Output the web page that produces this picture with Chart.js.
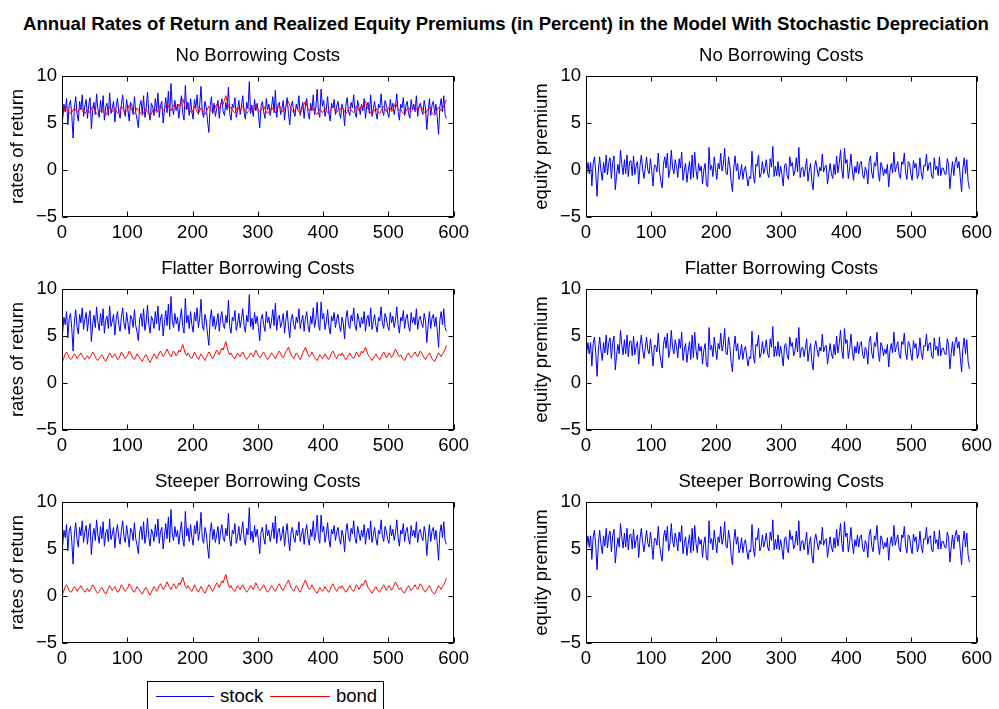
<!DOCTYPE html>
<html>
<head>
<meta charset="utf-8">
<script src="https://cdn.jsdelivr.net/npm/chart.js@4.4.1/dist/chart.umd.min.js"></script>
<style>
  body { margin: 0; background: #fff; width: 999px; height: 709px; position: relative; overflow: hidden;
         font-family: "Liberation Sans", Arial, sans-serif; color: #000; }
  canvas { position: absolute; }
  #mainTitle { position: absolute; left: 506px; top: 13px; transform: translateX(-50%); white-space: nowrap;
               font-weight: bold; font-size: 18.6px; line-height: 22px; }
  #legend { position: absolute; left: 147px; top: 681px; width: 235px; height: 30px; border: 1px solid #000;
            background: #fff; font-size: 18.5px; }
  #legend .ln { position: absolute; top: 14px; height: 1px; }
  #legend .tx { position: absolute; top: 3px; line-height: 22px; }
</style>
</head>
<body>
<div id="mainTitle">Annual Rates of Return and Realized Equity Premiums (in Percent) in the Model With Stochastic Depreciation</div>
<canvas id="c11" width="474" height="212" style="left:0px;top:45px"></canvas>
<canvas id="c12" width="473" height="212" style="left:524px;top:45px"></canvas>
<canvas id="c21" width="474" height="212" style="left:0px;top:258px"></canvas>
<canvas id="c22" width="473" height="212" style="left:524px;top:258px"></canvas>
<canvas id="c31" width="474" height="212" style="left:0px;top:471px"></canvas>
<canvas id="c32" width="473" height="212" style="left:524px;top:471px"></canvas>
<div id="legend">
  <div class="ln" style="left:8px;width:58px;background:#0000ff"></div>
  <div class="tx" style="left:72px">stock</div>
  <div class="ln" style="left:122px;width:60px;background:#ff0000"></div>
  <div class="tx" style="left:188px">bond</div>
</div>
<script>
const stockReturns = [
  5.4, 7.0, 6.2, 7.6, 4.8, 6.9, 7.4, 5.8, 3.4, 6.6,
  7.8, 6.0, 5.2, 7.3, 6.4, 8.0, 5.7, 6.8, 7.5, 5.5,
  6.9, 7.7, 4.4, 6.3, 7.2, 5.9, 8.1, 6.5, 5.6, 7.4,
  6.1, 7.9, 5.3, 6.7, 7.1, 5.8, 8.2, 6.0, 6.6, 7.3,
  5.1, 6.8, 7.6, 6.2, 5.5, 7.0, 8.0, 6.3, 5.7, 7.5,
  6.4, 5.2, 7.2, 6.9, 5.9, 7.8, 6.1, 5.4, 4.5, 6.8,
  7.4, 6.0, 7.9, 5.6, 6.5, 8.3, 6.2, 5.3, 7.1, 6.7,
  5.8, 7.6, 6.3, 8.2, 5.6, 6.9, 7.3, 5.0, 6.4, 7.7,
  6.1, 8.4, 5.7, 9.2, 6.6, 5.9, 7.4, 6.3, 7.0, 5.5,
  6.8, 7.9, 6.0, 5.3, 9.0, 6.4, 7.2, 5.8, 7.6, 6.2,
  5.4, 7.5, 6.6, 8.0, 5.9, 6.9, 8.9, 6.1, 5.6, 7.3,
  6.7, 5.2, 4.0, 6.8, 7.8, 6.0, 7.1, 5.7, 6.5, 7.4,
  5.5, 6.9, 7.6, 6.2, 5.8, 7.2, 6.4, 8.8, 6.0, 5.3,
  7.0, 6.6, 7.7, 5.6, 6.3, 7.4, 5.9, 6.8, 7.9, 6.1,
  5.4, 7.2, 6.5, 9.4, 6.0, 6.9, 5.7, 7.5, 6.3, 7.1,
  5.9, 4.5, 6.8, 7.3, 6.2, 5.5, 7.6, 6.4, 7.0, 5.8,
  6.6, 7.8, 6.1, 8.5, 5.6, 6.9, 7.2, 5.9, 6.5, 7.4,
  5.3, 6.7, 7.7, 6.0, 4.8, 6.8, 7.3, 6.2, 5.7, 7.0,
  6.4, 7.9, 5.8, 6.6, 7.2, 5.5, 6.9, 7.6, 6.1, 5.4,
  7.1, 6.3, 8.0, 5.9, 6.7, 8.6, 6.2, 5.6, 8.6, 6.8,
  7.4, 5.7, 6.5, 7.8, 6.0, 5.2, 7.1, 6.6, 7.5, 5.9,
  6.8, 7.3, 6.1, 5.5, 7.0, 6.4, 4.7, 6.9, 7.7, 6.2,
  5.8, 7.2, 6.6, 8.0, 6.1, 5.6, 7.4, 6.7, 5.9, 7.0,
  6.3, 7.6, 5.5, 6.8, 7.2, 6.0, 8.0, 5.7, 6.5, 7.3,
  6.1, 5.4, 7.0, 6.6, 8.1, 6.3, 5.8, 7.4, 6.9, 6.0,
  5.6, 7.5, 6.4, 7.1, 5.9, 6.7, 8.1, 6.2, 5.3, 7.0,
  6.6, 7.7, 5.8, 6.9, 7.3, 6.0, 5.5, 7.5, 6.4, 7.0,
  6.2, 7.9, 5.7, 6.8, 7.1, 6.3, 5.9, 7.4, 6.6, 4.3,
  6.1, 7.6, 5.8, 6.9, 7.3, 6.0, 7.0, 5.6, 3.8, 6.7,
  7.6, 6.2, 7.9, 5.9, 5.5
];

const bondNoCosts = [
  5.8, 6.2, 6.6, 6.8, 6.5, 6.2, 6.0, 6.1, 6.4, 6.6,
  6.4, 6.1, 6.3, 6.5, 6.7, 6.4, 6.2, 6.0, 6.2, 6.4,
  6.1, 6.2, 6.5, 6.8, 6.6, 6.3, 6.0, 5.9, 6.1, 6.3,
  6.5, 6.3, 6.0, 5.8, 6.1, 6.4, 6.7, 6.5, 6.2, 6.4,
  6.6, 6.3, 6.0, 6.1, 6.4, 6.8, 6.6, 6.3, 6.1, 6.3,
  6.5, 6.9, 6.7, 6.4, 6.1, 6.0, 6.3, 6.6, 6.4, 6.2,
  6.0, 5.8, 6.1, 6.4, 6.5, 6.2, 5.9, 5.7, 6.0, 6.3,
  6.6, 6.4, 6.1, 6.3, 6.7, 6.9, 6.6, 6.3, 6.5, 6.8,
  7.1, 6.8, 6.5, 6.3, 6.6, 6.9, 6.7, 6.4, 6.6, 7.0,
  6.8, 7.2, 7.6, 7.1, 6.6, 6.4, 6.7, 6.5, 6.2, 6.1,
  6.4, 6.8, 6.5, 6.2, 6.0, 6.3, 6.6, 6.4, 6.1, 5.9,
  6.2, 6.5, 6.8, 6.6, 6.3, 6.1, 6.4, 6.7, 7.0, 6.8,
  6.5, 6.9, 7.2, 7.0, 7.5, 7.9, 7.3, 6.8, 6.5, 6.7,
  6.4, 6.2, 6.1, 6.4, 6.7, 6.5, 6.3, 6.6, 6.8, 6.5,
  6.2, 6.0, 6.2, 6.4, 6.7, 6.5, 6.3, 6.6, 7.0, 6.7,
  6.4, 6.2, 6.3, 6.6, 6.8, 6.5, 6.2, 6.0, 6.2, 6.4,
  6.7, 6.5, 6.3, 6.1, 6.4, 6.7, 6.9, 6.6, 6.3, 6.2,
  6.5, 6.8, 7.0, 7.3, 6.9, 6.5, 6.3, 6.1, 6.4, 6.7,
  6.5, 6.2, 6.0, 6.3, 6.7, 7.0, 7.3, 6.9, 6.5, 6.3,
  6.5, 6.8, 6.5, 6.2, 6.0, 5.9, 6.2, 6.5, 6.3, 6.1,
  6.3, 6.6, 6.4, 6.1, 6.0, 6.3, 6.7, 6.9, 6.6, 6.3,
  6.1, 6.4, 6.6, 6.4, 6.7, 6.5, 6.2, 6.0, 6.2, 6.5,
  6.7, 6.4, 6.2, 6.1, 6.4, 6.8, 6.6, 6.3, 6.5, 6.9,
  6.7, 7.0, 7.3, 6.9, 6.5, 6.3, 6.1, 5.9, 6.1, 6.4,
  6.6, 6.3, 6.1, 6.0, 6.3, 6.6, 6.8, 6.5, 6.2, 6.4,
  6.7, 6.5, 6.2, 6.4, 6.8, 7.1, 6.8, 6.5, 6.3, 6.5,
  6.2, 6.0, 5.9, 6.2, 6.5, 6.7, 6.4, 6.2, 6.4, 6.6,
  6.8, 6.5, 6.3, 6.6, 6.9, 6.7, 6.4, 6.2, 6.0, 6.3,
  6.5, 6.7, 6.4, 6.1, 5.9, 5.8, 6.1, 6.4, 6.7, 6.5,
  6.3, 6.6, 6.8, 7.1, 7.5
];

const bondFlatter = [
  2.3, 2.7, 3.1, 3.3, 3.0, 2.7, 2.5, 2.6, 2.9, 3.1,
  2.9, 2.6, 2.8, 3.0, 3.2, 2.9, 2.7, 2.5, 2.7, 2.9,
  2.6, 2.7, 3.0, 3.3, 3.1, 2.8, 2.5, 2.4, 2.6, 2.8,
  3.0, 2.8, 2.5, 2.3, 2.6, 2.9, 3.2, 3.0, 2.7, 2.9,
  3.1, 2.8, 2.5, 2.6, 2.9, 3.3, 3.1, 2.8, 2.6, 2.8,
  3.0, 3.4, 3.2, 2.9, 2.6, 2.5, 2.8, 3.1, 2.9, 2.7,
  2.5, 2.3, 2.6, 2.9, 3.0, 2.7, 2.4, 2.2, 2.5, 2.8,
  3.1, 2.9, 2.6, 2.8, 3.2, 3.4, 3.1, 2.8, 3.0, 3.3,
  3.6, 3.3, 3.0, 2.8, 3.1, 3.4, 3.2, 2.9, 3.1, 3.5,
  3.3, 3.7, 4.1, 3.6, 3.1, 2.9, 3.2, 3.0, 2.7, 2.6,
  2.9, 3.3, 3.0, 2.7, 2.5, 2.8, 3.1, 2.9, 2.6, 2.4,
  2.7, 3.0, 3.3, 3.1, 2.8, 2.6, 2.9, 3.2, 3.5, 3.3,
  3.0, 3.4, 3.7, 3.5, 4.0, 4.4, 3.8, 3.3, 3.0, 3.2,
  2.9, 2.7, 2.6, 2.9, 3.2, 3.0, 2.8, 3.1, 3.3, 3.0,
  2.7, 2.5, 2.7, 2.9, 3.2, 3.0, 2.8, 3.1, 3.5, 3.2,
  2.9, 2.7, 2.8, 3.1, 3.3, 3.0, 2.7, 2.5, 2.7, 2.9,
  3.2, 3.0, 2.8, 2.6, 2.9, 3.2, 3.4, 3.1, 2.8, 2.7,
  3.0, 3.3, 3.5, 3.8, 3.4, 3.0, 2.8, 2.6, 2.9, 3.2,
  3.0, 2.7, 2.5, 2.8, 3.2, 3.5, 3.8, 3.4, 3.0, 2.8,
  3.0, 3.3, 3.0, 2.7, 2.5, 2.4, 2.7, 3.0, 2.8, 2.6,
  2.8, 3.1, 2.9, 2.6, 2.5, 2.8, 3.2, 3.4, 3.1, 2.8,
  2.6, 2.9, 3.1, 2.9, 3.2, 3.0, 2.7, 2.5, 2.7, 3.0,
  3.2, 2.9, 2.7, 2.6, 2.9, 3.3, 3.1, 2.8, 3.0, 3.4,
  3.2, 3.5, 3.8, 3.4, 3.0, 2.8, 2.6, 2.4, 2.6, 2.9,
  3.1, 2.8, 2.6, 2.5, 2.8, 3.1, 3.3, 3.0, 2.7, 2.9,
  3.2, 3.0, 2.7, 2.9, 3.3, 3.6, 3.3, 3.0, 2.8, 3.0,
  2.7, 2.5, 2.4, 2.7, 3.0, 3.2, 2.9, 2.7, 2.9, 3.1,
  3.3, 3.0, 2.8, 3.1, 3.4, 3.2, 2.9, 2.7, 2.5, 2.8,
  3.0, 3.2, 2.9, 2.6, 2.4, 2.3, 2.6, 2.9, 3.2, 3.0,
  2.8, 3.1, 3.3, 3.6, 4.0
];

const bondSteeper = [
  0.2, 0.6, 1.0, 1.2, 0.9, 0.6, 0.4, 0.5, 0.8, 1.0,
  0.8, 0.5, 0.7, 0.9, 1.1, 0.8, 0.6, 0.4, 0.6, 0.8,
  0.5, 0.6, 0.9, 1.2, 1.0, 0.7, 0.4, 0.3, 0.5, 0.7,
  0.9, 0.7, 0.4, 0.2, 0.5, 0.8, 1.1, 0.9, 0.6, 0.8,
  1.0, 0.7, 0.4, 0.5, 0.8, 1.2, 1.0, 0.7, 0.5, 0.7,
  0.9, 1.3, 1.1, 0.8, 0.5, 0.4, 0.7, 1.0, 0.8, 0.6,
  0.4, 0.2, 0.5, 0.8, 0.9, 0.6, 0.3, 0.1, 0.4, 0.7,
  1.0, 0.8, 0.5, 0.7, 1.1, 1.3, 1.0, 0.7, 0.9, 1.2,
  1.5, 1.2, 0.9, 0.7, 1.0, 1.3, 1.1, 0.8, 1.0, 1.4,
  1.2, 1.6, 2.0, 1.5, 1.0, 0.8, 1.1, 0.9, 0.6, 0.5,
  0.8, 1.2, 0.9, 0.6, 0.4, 0.7, 1.0, 0.8, 0.5, 0.3,
  0.6, 0.9, 1.2, 1.0, 0.7, 0.5, 0.8, 1.1, 1.4, 1.2,
  0.9, 1.3, 1.6, 1.4, 1.9, 2.3, 1.7, 1.2, 0.9, 1.1,
  0.8, 0.6, 0.5, 0.8, 1.1, 0.9, 0.7, 1.0, 1.2, 0.9,
  0.6, 0.4, 0.6, 0.8, 1.1, 0.9, 0.7, 1.0, 1.4, 1.1,
  0.8, 0.6, 0.7, 1.0, 1.2, 0.9, 0.6, 0.4, 0.6, 0.8,
  1.1, 0.9, 0.7, 0.5, 0.8, 1.1, 1.3, 1.0, 0.7, 0.6,
  0.9, 1.2, 1.4, 1.7, 1.3, 0.9, 0.7, 0.5, 0.8, 1.1,
  0.9, 0.6, 0.4, 0.7, 1.1, 1.4, 1.7, 1.3, 0.9, 0.7,
  0.9, 1.2, 0.9, 0.6, 0.4, 0.3, 0.6, 0.9, 0.7, 0.5,
  0.7, 1.0, 0.8, 0.5, 0.4, 0.7, 1.1, 1.3, 1.0, 0.7,
  0.5, 0.8, 1.0, 0.8, 1.1, 0.9, 0.6, 0.4, 0.6, 0.9,
  1.1, 0.8, 0.6, 0.5, 0.8, 1.2, 1.0, 0.7, 0.9, 1.3,
  1.1, 1.4, 1.7, 1.3, 0.9, 0.7, 0.5, 0.3, 0.5, 0.8,
  1.0, 0.7, 0.5, 0.4, 0.7, 1.0, 1.2, 0.9, 0.6, 0.8,
  1.1, 0.9, 0.6, 0.8, 1.2, 1.5, 1.2, 0.9, 0.7, 0.9,
  0.6, 0.4, 0.3, 0.6, 0.9, 1.1, 0.8, 0.6, 0.8, 1.0,
  1.2, 0.9, 0.7, 1.0, 1.3, 1.1, 0.8, 0.6, 0.4, 0.7,
  0.9, 1.1, 0.8, 0.5, 0.3, 0.2, 0.5, 0.8, 1.1, 0.9,
  0.7, 1.0, 1.2, 1.5, 1.9
];

const premiumNoCosts = [
  -0.4, 0.8, -0.4, 0.8, -1.7, 0.7, 1.4, -0.3, -2.8, 0.0,
  1.4, -0.1, -1.1, 0.8, -0.3, 1.6, -0.5, 0.8, 1.3, -0.9,
  0.8, 1.5, -2.1, -0.5, 0.6, -0.4, 2.1, 0.6, -0.5, 1.1,
  -0.4, 1.6, -0.7, 0.9, 1.0, -0.6, 1.5, -0.5, 0.4, 0.9,
  -1.5, 0.5, 1.6, 0.1, -0.9, 0.2, 1.4, 0.0, -0.4, 1.2,
  -0.1, -1.7, 0.5, 0.5, -0.2, 1.8, -0.2, -1.2, -1.9, 0.6,
  1.4, 0.2, 1.8, -0.8, 0.0, 2.1, 0.3, -0.4, 1.1, 0.4,
  -0.8, 1.2, 0.2, 1.9, -1.1, 0.0, 0.7, -1.3, -0.1, 0.9,
  -1.0, 1.6, -0.8, 1.9, 0.0, -1.0, 0.7, -0.1, 0.4, -1.5,
  0.0, 0.7, -1.6, -1.8, 2.4, 0.0, 0.5, -0.7, 1.4, 0.1,
  -1.0, 0.7, 0.1, 1.8, -0.1, 0.6, 2.3, -0.3, -0.5, 1.4,
  0.5, -1.3, -2.3, 0.2, 1.5, -0.1, 0.7, -1.0, -0.5, 0.6,
  -1.0, 0.0, 0.4, -0.8, -1.7, -0.7, -0.9, 2.0, -0.5, -1.4,
  0.6, 0.4, 1.6, -0.8, -0.4, 0.9, -0.4, 0.2, 1.1, -0.4,
  -0.8, 1.2, 0.3, 2.5, -0.7, 0.4, -0.6, 0.9, -0.7, 0.4,
  -0.5, -1.7, 0.5, 0.7, -0.6, -1.0, 1.4, 0.4, 0.8, -0.6,
  -0.1, 1.3, -0.2, 2.4, -0.8, 0.2, 0.3, -0.7, 0.2, 1.2,
  -1.2, -0.1, 0.7, -1.3, -2.1, 0.3, 1.0, 0.1, -0.7, 0.3,
  -0.1, 1.7, -0.2, 0.3, 0.5, -1.5, -0.4, 0.7, -0.4, -0.9,
  0.6, -0.5, 1.5, -0.3, 0.7, 2.1, 0.0, -0.9, 2.3, 0.7,
  1.1, -0.9, 0.1, 1.7, 0.0, -1.1, 0.4, -0.3, 0.9, -0.4,
  0.7, 0.9, -0.5, -0.9, 0.3, -0.1, -1.5, 0.9, 1.5, -0.3,
  -0.9, 0.8, 0.4, 1.9, -0.3, -1.2, 0.8, 0.4, -0.6, 0.1,
  -0.4, 0.6, -1.8, -0.1, 0.7, -0.3, 1.9, -0.2, 0.4, 0.9,
  -0.5, -0.9, 0.9, 0.6, 1.8, -0.3, -1.0, 0.9, 0.7, -0.4,
  -1.1, 1.0, 0.2, 0.7, -0.9, -0.4, 1.3, -0.3, -1.0, 0.5,
  0.4, 1.7, -0.1, 0.7, 0.8, -0.7, -0.9, 1.3, 0.0, 0.4,
  -0.6, 1.4, -0.6, 0.2, 0.2, -0.4, -0.5, 1.2, 0.6, -2.0,
  -0.4, 0.9, -0.6, 0.8, 1.4, 0.2, 0.9, -0.8, -2.3, 0.2,
  1.3, -0.4, 1.1, -1.2, -2.0
];

const premiumFlatter = [
  3.1, 4.3, 3.1, 4.3, 1.8, 4.2, 4.9, 3.2, 0.7, 3.5,
  4.9, 3.4, 2.4, 4.3, 3.2, 5.1, 3.0, 4.3, 4.8, 2.6,
  4.3, 5.0, 1.4, 3.0, 4.1, 3.1, 5.6, 4.1, 3.0, 4.6,
  3.1, 5.1, 2.8, 4.4, 4.5, 2.9, 5.0, 3.0, 3.9, 4.4,
  2.0, 4.0, 5.1, 3.6, 2.6, 3.7, 4.9, 3.5, 3.1, 4.7,
  3.4, 1.8, 4.0, 4.0, 3.3, 5.3, 3.3, 2.3, 1.6, 4.1,
  4.9, 3.7, 5.3, 2.7, 3.5, 5.6, 3.8, 3.1, 4.6, 3.9,
  2.7, 4.7, 3.7, 5.4, 2.4, 3.5, 4.2, 2.2, 3.4, 4.4,
  2.5, 5.1, 2.7, 5.4, 3.5, 2.5, 4.2, 3.4, 3.9, 2.0,
  3.5, 4.2, 1.9, 1.7, 5.9, 3.5, 4.0, 2.8, 4.9, 3.6,
  2.5, 4.2, 3.6, 5.3, 3.4, 4.1, 5.8, 3.2, 3.0, 4.9,
  4.0, 2.2, 1.2, 3.7, 5.0, 3.4, 4.2, 2.5, 3.0, 4.1,
  2.5, 3.5, 3.9, 2.7, 1.8, 2.8, 2.6, 5.5, 3.0, 2.1,
  4.1, 3.9, 5.1, 2.7, 3.1, 4.4, 3.1, 3.7, 4.6, 3.1,
  2.7, 4.7, 3.8, 6.0, 2.8, 3.9, 2.9, 4.4, 2.8, 3.9,
  3.0, 1.8, 4.0, 4.2, 2.9, 2.5, 4.9, 3.9, 4.3, 2.9,
  3.4, 4.8, 3.3, 5.9, 2.7, 3.7, 3.8, 2.8, 3.7, 4.7,
  2.3, 3.4, 4.2, 2.2, 1.4, 3.8, 4.5, 3.6, 2.8, 3.8,
  3.4, 5.2, 3.3, 3.8, 4.0, 2.0, 3.1, 4.2, 3.1, 2.6,
  4.1, 3.0, 5.0, 3.2, 4.2, 5.6, 3.5, 2.6, 5.8, 4.2,
  4.6, 2.6, 3.6, 5.2, 3.5, 2.4, 3.9, 3.2, 4.4, 3.1,
  4.2, 4.4, 3.0, 2.6, 3.8, 3.4, 2.0, 4.4, 5.0, 3.2,
  2.6, 4.3, 3.9, 5.4, 3.2, 2.3, 4.3, 3.9, 2.9, 3.6,
  3.1, 4.1, 1.7, 3.4, 4.2, 3.2, 5.4, 3.3, 3.9, 4.4,
  3.0, 2.6, 4.4, 4.1, 5.3, 3.2, 2.5, 4.4, 4.2, 3.1,
  2.4, 4.5, 3.7, 4.2, 2.6, 3.1, 4.8, 3.2, 2.5, 4.0,
  3.9, 5.2, 3.4, 4.2, 4.3, 2.8, 2.6, 4.8, 3.5, 3.9,
  2.9, 4.9, 2.9, 3.7, 3.7, 3.1, 3.0, 4.7, 4.1, 1.5,
  3.1, 4.4, 2.9, 4.3, 4.9, 3.7, 4.4, 2.7, 1.2, 3.7,
  4.8, 3.1, 4.6, 2.3, 1.5
];

const premiumSteeper = [
  5.2, 6.4, 5.2, 6.4, 3.9, 6.3, 7.0, 5.3, 2.8, 5.6,
  7.0, 5.5, 4.5, 6.4, 5.3, 7.2, 5.1, 6.4, 6.9, 4.7,
  6.4, 7.1, 3.5, 5.1, 6.2, 5.2, 7.7, 6.2, 5.1, 6.7,
  5.2, 7.2, 4.9, 6.5, 6.6, 5.0, 7.1, 5.1, 6.0, 6.5,
  4.1, 6.1, 7.2, 5.7, 4.7, 5.8, 7.0, 5.6, 5.2, 6.8,
  5.5, 3.9, 6.1, 6.1, 5.4, 7.4, 5.4, 4.4, 3.7, 6.2,
  7.0, 5.8, 7.4, 4.8, 5.6, 7.7, 5.9, 5.2, 6.7, 6.0,
  4.8, 6.8, 5.8, 7.5, 4.5, 5.6, 6.3, 4.3, 5.5, 6.5,
  4.6, 7.2, 4.8, 7.5, 5.6, 4.6, 6.3, 5.5, 6.0, 4.1,
  5.6, 6.3, 4.0, 3.8, 8.0, 5.6, 6.1, 4.9, 7.0, 5.7,
  4.6, 6.3, 5.7, 7.4, 5.5, 6.2, 7.9, 5.3, 5.1, 7.0,
  6.1, 4.3, 3.3, 5.8, 7.1, 5.5, 6.3, 4.6, 5.1, 6.2,
  4.6, 5.6, 6.0, 4.8, 3.9, 4.9, 4.7, 7.6, 5.1, 4.2,
  6.2, 6.0, 7.2, 4.8, 5.2, 6.5, 5.2, 5.8, 6.7, 5.2,
  4.8, 6.8, 5.9, 8.1, 4.9, 6.0, 5.0, 6.5, 4.9, 6.0,
  5.1, 3.9, 6.1, 6.3, 5.0, 4.6, 7.0, 6.0, 6.4, 5.0,
  5.5, 6.9, 5.4, 8.0, 4.8, 5.8, 5.9, 4.9, 5.8, 6.8,
  4.4, 5.5, 6.3, 4.3, 3.5, 5.9, 6.6, 5.7, 4.9, 5.9,
  5.5, 7.3, 5.4, 5.9, 6.1, 4.1, 5.2, 6.3, 5.2, 4.7,
  6.2, 5.1, 7.1, 5.3, 6.3, 7.7, 5.6, 4.7, 7.9, 6.3,
  6.7, 4.7, 5.7, 7.3, 5.6, 4.5, 6.0, 5.3, 6.5, 5.2,
  6.3, 6.5, 5.1, 4.7, 5.9, 5.5, 4.1, 6.5, 7.1, 5.3,
  4.7, 6.4, 6.0, 7.5, 5.3, 4.4, 6.4, 6.0, 5.0, 5.7,
  5.2, 6.2, 3.8, 5.5, 6.3, 5.3, 7.5, 5.4, 6.0, 6.5,
  5.1, 4.7, 6.5, 6.2, 7.4, 5.3, 4.6, 6.5, 6.3, 5.2,
  4.5, 6.6, 5.8, 6.3, 4.7, 5.2, 6.9, 5.3, 4.6, 6.1,
  6.0, 7.3, 5.5, 6.3, 6.4, 4.9, 4.7, 6.9, 5.6, 6.0,
  5.0, 7.0, 5.0, 5.8, 5.8, 5.2, 5.1, 6.8, 6.2, 3.6,
  5.2, 6.5, 5.0, 6.4, 7.0, 5.8, 6.5, 4.8, 3.3, 5.8,
  6.9, 5.2, 6.7, 4.4, 3.6
];

// period of each observation (every second period, starting at 1)
const periods = stockReturns.map((_, i) => 1 + 2 * i);

const panelTitles = ["No Borrowing Costs", "Flatter Borrowing Costs", "Steeper Borrowing Costs"];
const leftLabel = "rates of return";
const rightLabel = "equity premium";

const STOCK_COLOR = "#0000ff";
const BOND_COLOR = "#ff0000";
const textFont = { family: "'Liberation Sans', Arial, sans-serif", size: 18.5, lineHeight: "22px" };

// MATLAB style box with inward ticks on all four sides
const matlabFrame = {
    id: "matlabFrame",
    afterDatasetsDraw(chart) {
        const { ctx, chartArea: a, scales } = chart;
        const l = Math.round(a.left) + 0.5, r = Math.round(a.right) - 0.5;
        const t = Math.round(a.top) + 0.5, b = Math.round(a.bottom) - 0.5;
        ctx.save();
        ctx.strokeStyle = "#000";
        ctx.lineWidth = 1;
        ctx.strokeRect(l, t, r - l, b - t);
        ctx.beginPath();
        scales.x.ticks.forEach(tk => {
            const px = Math.round(scales.x.getPixelForValue(tk.value)) + 0.5;
            ctx.moveTo(px, b); ctx.lineTo(px, b - 5);
            ctx.moveTo(px, t); ctx.lineTo(px, t + 5);
        });
        scales.y.ticks.forEach(tk => {
            const py = Math.round(scales.y.getPixelForValue(tk.value)) + 0.5;
            ctx.moveTo(l, py); ctx.lineTo(l + 5, py);
            ctx.moveTo(r, py); ctx.lineTo(r - 5, py);
        });
        ctx.stroke();
        ctx.restore();
    }
};

function lineSet(label, values, color, order) {
    return {
        label: label,
        data: values,
        borderColor: color,
        backgroundColor: color,
        borderWidth: 1,
        pointRadius: 0,
        tension: 0,
        fill: false,
        order: order
    };
}

function makePanel(id, title, yLabel, datasets) {
    const ctx = document.getElementById(id).getContext("2d");
    return new Chart(ctx, {
        type: "line",
        data: { labels: periods, datasets: datasets },
        options: {
            responsive: false,
            animation: false,
            devicePixelRatio: 1,
            layout: { padding: { left: 0, right: 16, top: 0, bottom: 0 } },
            plugins: {
                legend: { display: false },
                tooltip: { enabled: false },
                title: {
                    display: true,
                    text: title,
                    fullSize: false,
                    color: "#000",
                    font: { ...textFont, weight: "normal" },
                    padding: { top: 0, bottom: 9 }
                }
            },
            scales: {
                x: {
                    type: "linear",
                    min: 0,
                    max: 600,
                    grid: { display: false, drawTicks: false },
                    border: { display: false },
                    ticks: { stepSize: 100, padding: 5, maxRotation: 0, autoSkip: false, color: "#000", font: textFont },
                    afterFit: s => { s.height = 40; }
                },
                y: {
                    min: -5,
                    max: 10,
                    grid: { display: false, drawTicks: false },
                    border: { display: false },
                    ticks: {
                        stepSize: 5, padding: 5, color: "#000", font: textFont,
                        callback: v => String(v).replace("-", "\u2212")
                    },
                    title: { display: true, text: yLabel, color: "#000", font: textFont, padding: { top: 7, bottom: 0 } },
                    afterFit: s => { s.width = 62; }
                }
            }
        },
        plugins: [matlabFrame]
    });
}

// left column: stock and bond returns; right column: realized equity premium
makePanel("c11", panelTitles[0], leftLabel, [
    lineSet("stock", stockReturns, STOCK_COLOR, 1),
    lineSet("bond", bondNoCosts, BOND_COLOR, 0)
]);
makePanel("c21", panelTitles[1], leftLabel, [
    lineSet("stock", stockReturns, STOCK_COLOR, 1),
    lineSet("bond", bondFlatter, BOND_COLOR, 0)
]);
makePanel("c31", panelTitles[2], leftLabel, [
    lineSet("stock", stockReturns, STOCK_COLOR, 1),
    lineSet("bond", bondSteeper, BOND_COLOR, 0)
]);
makePanel("c12", panelTitles[0], rightLabel, [lineSet("premium", premiumNoCosts, STOCK_COLOR, 0)]);
makePanel("c22", panelTitles[1], rightLabel, [lineSet("premium", premiumFlatter, STOCK_COLOR, 0)]);
makePanel("c32", panelTitles[2], rightLabel, [lineSet("premium", premiumSteeper, STOCK_COLOR, 0)]);
</script>
</body>
</html>
